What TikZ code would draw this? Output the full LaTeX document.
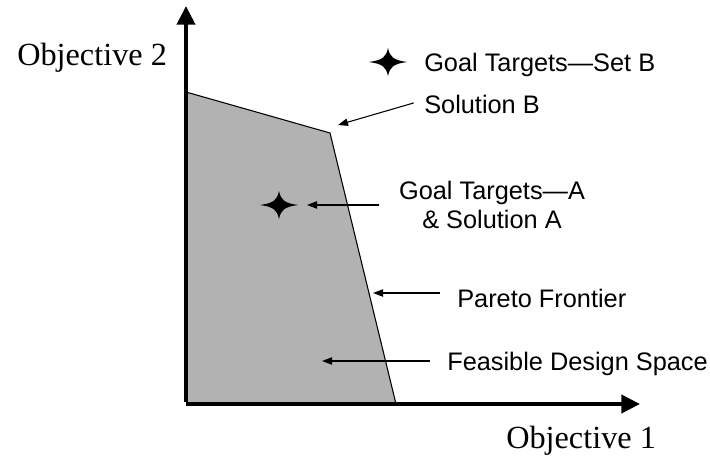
\documentclass[tikz,border=0pt]{standalone}
\usepackage{fontspec}
\setmainfont{Liberation Serif}
\newfontfamily\arialfont{Liberation Sans}
\usetikzlibrary{arrows.meta}

\begin{document}
\begin{tikzpicture}[x=0.75pt,y=-0.75pt,
  axislabel/.style={font=\fontsize{24.2}{27}\selectfont,inner sep=0pt},
  tag/.style={font=\arialfont\fontsize{19}{21.75}\selectfont,inner sep=0pt},
  pointer/.style={-{Triangle[length=7.5pt,width=5.5pt]},line width=0.8pt,shorten <=13pt},
  axis/.style={-{Triangle[length=14pt,width=13.5pt]},line width=3pt}]

\useasboundingbox (0,0) rectangle (710,457);

% ---- the feasible region and its frontier ----
\fill[black!30] (186,404) -- (186,92) -- (330,133) -- (396,404) -- cycle;
\draw[line width=0.8pt] (186,92) -- (330,133) -- (396,404);

% ---- axes ----
\coordinate (O) at (186,404);
\coordinate (xend) at (640,404);
\coordinate (yend) at (186,6);
\draw[axis] (O) -- (xend);
\draw[axis] ([yshift=1.5pt]O) -- (yend);
\node[axislabel,anchor=base west] (obj2) at (17,65) {Objective 2};
\node[axislabel,anchor=base west] (obj1) at (506,448) {Objective 1};

% ---- goal targets (four-point stars) ----
\coordinate (starA) at (279,205);
\coordinate (starB) at (388,62);
\foreach \s in {starA,starB}{
  \fill[shift={(\s)}] (-19,0) .. controls (-5,2) and (-2,5) .. (0,14)
    .. controls (2,5) and (5,2) .. (19,0)
    .. controls (5,-2) and (2,-5) .. (0,-14)
    .. controls (-2,-5) and (-5,-2) .. (-19,0) -- cycle;}

% ---- labels ----
\node[tag,anchor=base west] (setB) at (424,71) {Goal Targets—Set B};
\node[tag,anchor=base west] (solB) at (424,113) {Solution B};
\node[tag,align=center] (goalA) at (492,205) {Goal Targets—A\\ \& Solution A};
\node[tag,anchor=base west] (pareto) at (457,307) {Pareto Frontier};
\node[tag,anchor=base west] (feasible) at (447,370) {Feasible Design Space};

% ---- pointers ----
\coordinate (hitB) at (338,125);
\coordinate (hitA) at (307,205);
\coordinate (hitP) at (373,293);
\coordinate (hitF) at (322,361);
\draw[pointer,shorten <=8pt] ([yshift=3pt]solB.west) -- (hitB);
\draw[pointer,shorten <=15pt] (goalA.west) -- (hitA);
\draw[pointer] (pareto.west |- hitP) -- (hitP);
\draw[pointer] (feasible.west |- hitF) -- (hitF);

\end{tikzpicture}
\end{document}
